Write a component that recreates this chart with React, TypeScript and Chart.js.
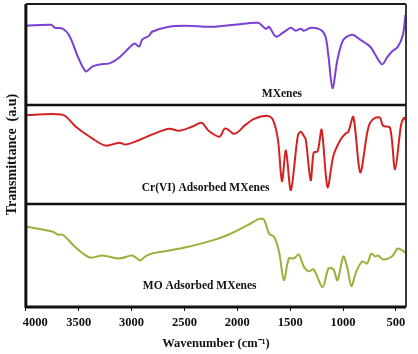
import React, { useEffect, useRef } from 'react';
import { Chart, registerables } from 'chart.js';
Chart.register(...registerables);

const xTicks = [4000, 3500, 3000, 2500, 2000, 1500, 1000, 500];

// MXenes (top panel)
const mxWn = [4000, 3762, 3725, 3650, 3584, 3509, 3434, 3369, 3303, 3209, 3116, 2975, 2928, 2900, 2834, 2806, 2647, 2497, 2244, 2028, 1803, 1756, 1728, 1700, 1634, 1569, 1494, 1447, 1400, 1372, 1306, 1213, 1166, 1138, 1100, 1053, 997, 913, 838, 744, 697, 631, 584, 538, 481, 434, 410];
const mxT = [80, 81, 78, 77, 69, 49, 34, 39, 41, 42, 48, 62, 59, 66, 70, 74, 79, 80, 79, 81, 83, 79, 77, 79, 69, 73, 78, 75, 77, 75, 78, 76, 69, 49, 17, 46, 66, 71, 66, 59, 51, 41, 48, 54, 59, 71, 91];

// Cr(VI) Adsorbed MXenes (middle panel)
const crWn = [3990, 3650, 3528, 3369, 3247, 3116, 3059, 2966, 2834, 2647, 2553, 2431, 2338, 2272, 2169, 2122, 2084, 2038, 1991, 1934, 1841, 1709, 1663, 1616, 1578, 1541, 1494, 1428, 1400, 1372, 1353, 1306, 1278, 1241, 1203, 1147, 1091, 1025, 978, 950, 903, 838, 772, 744, 697, 650, 622, 556, 509, 453, 425, 410];
const crT = [90, 90, 78, 66, 59, 62, 60, 63, 69, 76, 74, 78, 82, 74, 68, 76, 75, 71, 73, 79, 86, 89, 85, 65, 23, 54, 14, 69, 73, 69, 65, 24, 52, 53, 75, 17, 49, 65, 71, 73, 88, 32, 72, 82, 87, 87, 79, 77, 35, 79, 87, 85];

// MO Adsorbed MXenes (bottom panel)
const moWn = [3990, 3744, 3697, 3650, 3528, 3397, 3275, 3116, 2994, 2919, 2872, 2806, 2647, 2497, 2244, 2084, 1897, 1794, 1747, 1700, 1653, 1606, 1559, 1513, 1466, 1419, 1372, 1325, 1278, 1194, 1138, 1091, 1053, 997, 959, 922, 875, 819, 772, 734, 697, 669, 622, 538, 481, 410];
const moT = [81, 76, 73, 73, 60, 50, 52, 49, 52, 47, 51, 54, 57, 60, 67, 73, 83, 89, 88, 74, 71, 56, 27, 49, 49, 53, 41, 36, 38, 20, 39, 38, 27, 51, 39, 21, 36, 46, 44, 54, 51, 52, 48, 51, 59, 55];

const seriesNames = ['MXenes', 'Cr(VI) Adsorbed MXenes', 'MO Adsorbed MXenes'];
const seriesColors = ['#7a3fd4', '#d42222', '#9dae3c'];
const panelAxes = ['y1', 'y2', 'y3'];
const panelMax = [102, 100, 104];
const labelWn = [1578, 2300, 2356];
const labelT = [11, 16, 21];

const SERIF = '"Liberation Serif", "Times New Roman", serif';

const framePlugin = {
  id: 'frames',
  afterDatasetsDraw(chart: any) {
    const { ctx, chartArea: a, scales } = chart;
    const line = (x1: number, y1: number, x2: number, y2: number) => {
      ctx.beginPath();
      ctx.moveTo(x1, y1);
      ctx.lineTo(x2, y2);
      ctx.stroke();
    };
    ctx.save();
    ctx.strokeStyle = '#1a1a1a';
    ctx.lineWidth = 2;
    line(a.left, a.top, a.right, a.top);
    ctx.strokeStyle = '#3a3a3a';
    line(a.right, a.top, a.right, a.bottom);
    ctx.strokeStyle = '#111';
    ctx.lineWidth = 2.5;
    line(a.left, scales.y2.top, a.right, scales.y2.top);
    line(a.left, scales.y3.top, a.right, scales.y3.top);
    ctx.lineWidth = 3;
    line(a.left, a.top, a.left, a.bottom + 1);
    line(a.left, a.bottom, a.right, a.bottom);
    ctx.fillStyle = '#111';
    ctx.font = 'bold 11.5px ' + SERIF;
    ctx.textAlign = 'center';
    ctx.textBaseline = 'middle';
    seriesNames.forEach((t, i) => {
      ctx.fillText(t, scales.x.getPixelForValue(labelWn[i]), scales[panelAxes[i]].getPixelForValue(labelT[i]));
    });
    ctx.restore();
  },
};

export default function App() {
  const ref = useRef<HTMLCanvasElement>(null);
  useEffect(() => {
    document.body.style.margin = '0';
    const wns = [mxWn, crWn, moWn];
    const ts = [mxT, crT, moT];
    const datasets = seriesNames.map((name, i) => ({
      label: name,
      data: wns[i].map((w, j) => ({ x: w, y: ts[i][j] })),
      xAxisID: 'x',
      yAxisID: panelAxes[i],
      borderColor: seriesColors[i],
      borderWidth: 2,
      pointRadius: 0,
      tension: 0.3,
      fill: false,
    }));
    const yAxis = (i: number, title: boolean) => ({
      type: 'linear',
      position: 'left',
      stack: 'panels',
      stackWeight: panelMax[i],
      min: 0,
      max: panelMax[i],
      grid: { display: false },
      border: { display: false },
      ticks: { display: false },
      title: {
        display: title,
        text: 'Transmittance  (a.u)',
        font: { family: SERIF, size: 14, weight: 'bold' },
        color: '#111',
        padding: 1,
      },
      afterFit: (s: any) => {
        s.width = 23;
      },
    });
    const chart = new Chart(ref.current!, {
      type: 'line',
      data: { datasets: datasets as any },
      plugins: [framePlugin],
      options: {
        animation: false,
        responsive: false,
        layout: { padding: { left: 0, right: 12, top: 4, bottom: 3 } },
        plugins: { legend: { display: false }, tooltip: { enabled: false } },
        scales: {
          x: {
            type: 'linear',
            reverse: true,
            min: 405,
            max: 4000,
            afterBuildTicks: (s: any) => {
              s.ticks = xTicks.map((v) => ({ value: v }));
            },
            grid: { drawOnChartArea: false, drawTicks: true, tickLength: 4, color: '#111' },
            border: { display: false },
            ticks: {
              autoSkip: false,
              maxRotation: 0,
              padding: 4,
              color: '#111',
              font: { family: SERIF, size: 12.5, weight: 'bold' },
              callback: (v: any) => (v === 4000 ? '\u2002\u2002\u20024000' : String(v)),
            },
            title: {
              display: true,
              text: 'Wavenumber (cm\u207B\u00B9)',
              color: '#111',
              font: { family: SERIF, size: 12.5, weight: 'bold' },
              padding: { top: 2, bottom: 0 },
            },
          },
          y3: yAxis(2, false),
          y2: yAxis(1, true),
          y1: yAxis(0, false),
        } as any,
      },
    });
    return () => chart.destroy();
  }, []);
  return (
    <div style={{ width: 418, height: 354 }}>
      <canvas ref={ref} width={418} height={354} style={{ width: 418, height: 354, display: 'block' }} />
    </div>
  );
}
